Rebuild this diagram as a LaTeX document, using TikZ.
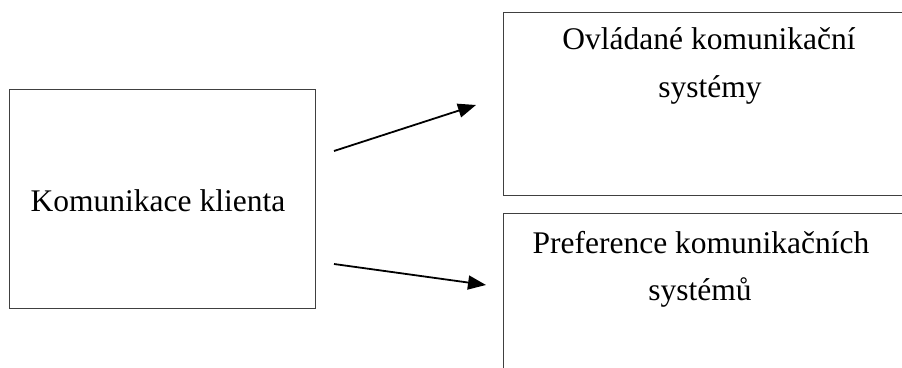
\documentclass[tikz,border=0pt]{standalone}
\usepackage{fontspec}
\setmainfont{Liberation Serif}
\usetikzlibrary{arrows.meta}

\begin{document}
\begin{tikzpicture}[
        x=1pt,y=-1pt,
        box/.style={draw=black!75,line width=1pt,rectangle,inner sep=0pt},
        txt/.style={font=\fontsize{31.5}{38}\selectfont,inner sep=0pt,anchor=base},
        link/.style={-{Triangle[length=18pt,width=14pt]},line width=1.8pt,black}
    ]
        % Fix the visible area
        \clip (0,0) rectangle (902,367);

        % Define the boxes
        \node[box,minimum width=306pt,minimum height=219pt] (klient) at (162,198.5) {};
        \node[box,minimum width=417pt,minimum height=183pt] (ovladane) at (711.5,103.5) {};
        \node[box,minimum width=417pt,minimum height=177pt] (preference) at (711.5,301.5) {};

        % Texts in the boxes
        \node[txt] (klientA) at (158,211) {Komunikace klienta};
        \node[txt] (ovladaneA) at (709,49) {Ovládané komunikační};
        \node[txt] (ovladaneB) at (710,97) {systémy};
        \node[txt] (preferenceA) at (701,253) {Preference komunikačních};
        \node[txt] (preferenceB) at (700,300) {systémů};

        % Arrow ends
        \coordinate (upS) at (334,151);
        \coordinate (upE) at (476,105);
        \coordinate (downS) at (334,264);
        \coordinate (downE) at (486,285);

        % Draw the arrows
        \draw [link] (upS) -- (upE);
        \draw [link] (downS) -- (downE);
    \end{tikzpicture}
\end{document}
